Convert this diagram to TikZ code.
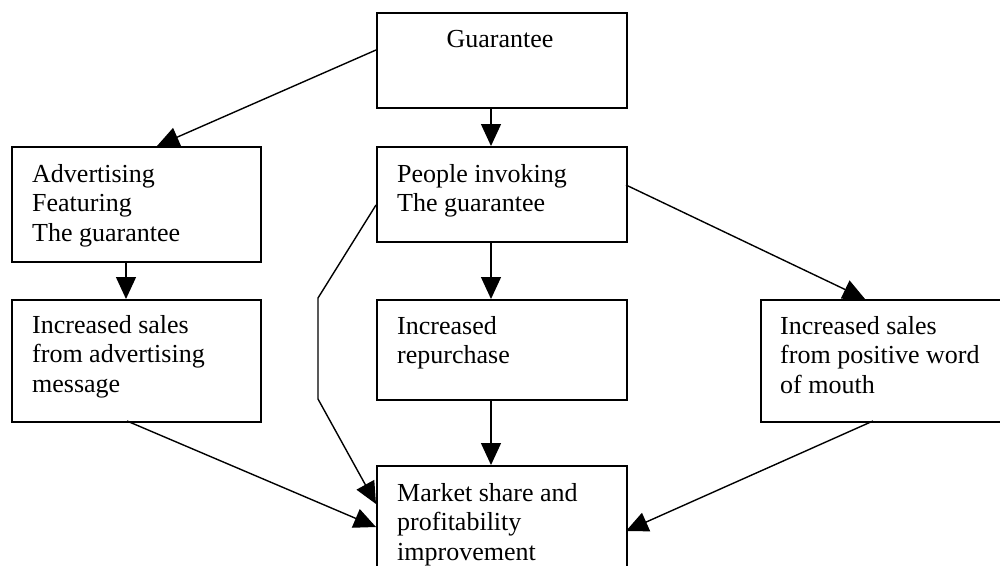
\documentclass[tikz,border=0pt]{standalone}
\usepackage{fontspec}
\setmainfont{Liberation Serif}
\usetikzlibrary{arrows.meta}
\tikzset{
  box/.style={draw=black, line width=1.7pt, rectangle, anchor=north west, inner sep=0pt, minimum width=250pt},
  txt/.style={anchor=base west, inner sep=0pt, font=\fontsize{26}{29.5}\selectfont},
  conn/.style={line width=1.4pt, -{Triangle[length=22pt,width=20pt]}},
}
\newcommand{\boxtext}[1]{\parbox[t]{230pt}{\raggedright #1}}
\begin{document}
\begin{tikzpicture}[x=1pt,y=-1pt]
\useasboundingbox (0,0) rectangle (1000,565);
\fill[white] (0,0) rectangle (1000,565);
% boxes
\node[box, minimum height=95pt]  (G)  at (376,12)  {};
\node[box, minimum width=249pt, minimum height=115pt] (A)  at (11,146)  {};
\node[box, minimum height=95pt]  (P)  at (376,146) {};
\node[box, minimum width=249pt, minimum height=122pt] (S)  at (11,299)  {};
\node[box, minimum height=100pt] (R)  at (376,299) {};
\node[box, minimum height=122pt] (W)  at (760,299) {};
\node[box, minimum height=140pt] (M)  at (376,465) {};
% texts
\node[txt, anchor=base] (Gt) at (500,47) {Guarantee};
\node[txt] (At) at (32,182)  {\boxtext{Advertising\\Featuring\\The guarantee}};
\node[txt] (Pt) at (397,182) {\boxtext{People invoking\\The guarantee}};
\node[txt] (St) at (32,333)  {\boxtext{Increased sales\\from advertising\\message}};
\node[txt] (Rt) at (397,334) {\boxtext{Increased\\repurchase}};
\node[txt] (Wt) at (780,334) {\boxtext{Increased sales\\from positive word\\of mouth}};
\node[txt] (Mt) at (397,501) {\boxtext{Market share and\\profitability\\improvement}};
% attachment points
\coordinate (gl) at (G.west |- 0,50);
\coordinate (at) at (157,146);
\coordinate (gb) at (491,107);
\coordinate (pt) at (491,146);
\coordinate (ab) at (126,261);
\coordinate (st) at (126,299);
\coordinate (pb) at (491,241);
\coordinate (rt) at (491,299);
\coordinate (pr) at (626,185);
\coordinate (wt) at (865,299);
\coordinate (pl) at (376,205);
\coordinate (k1) at (318,298);
\coordinate (k2) at (318,399);
\coordinate (m1) at (376,504);
\coordinate (sb) at (127,421);
\coordinate (m2) at (376,527);
\coordinate (rb) at (491,399);
\coordinate (mt) at (491,465);
\coordinate (wb) at (873,421);
\coordinate (m3) at (626,531);
% connectors
\draw[conn] (gl) -- (at);
\draw[conn] (gb) -- (pt);
\draw[conn] (ab) -- (st);
\draw[conn] (pb) -- (rt);
\draw[conn] (pr) -- (wt);
\draw[conn] (pl) -- (k1) -- (k2) -- (m1);
\draw[conn] (sb) -- (m2);
\draw[conn] (rb) -- (mt);
\draw[conn] (wb) -- (m3);
\end{tikzpicture}
\end{document}
